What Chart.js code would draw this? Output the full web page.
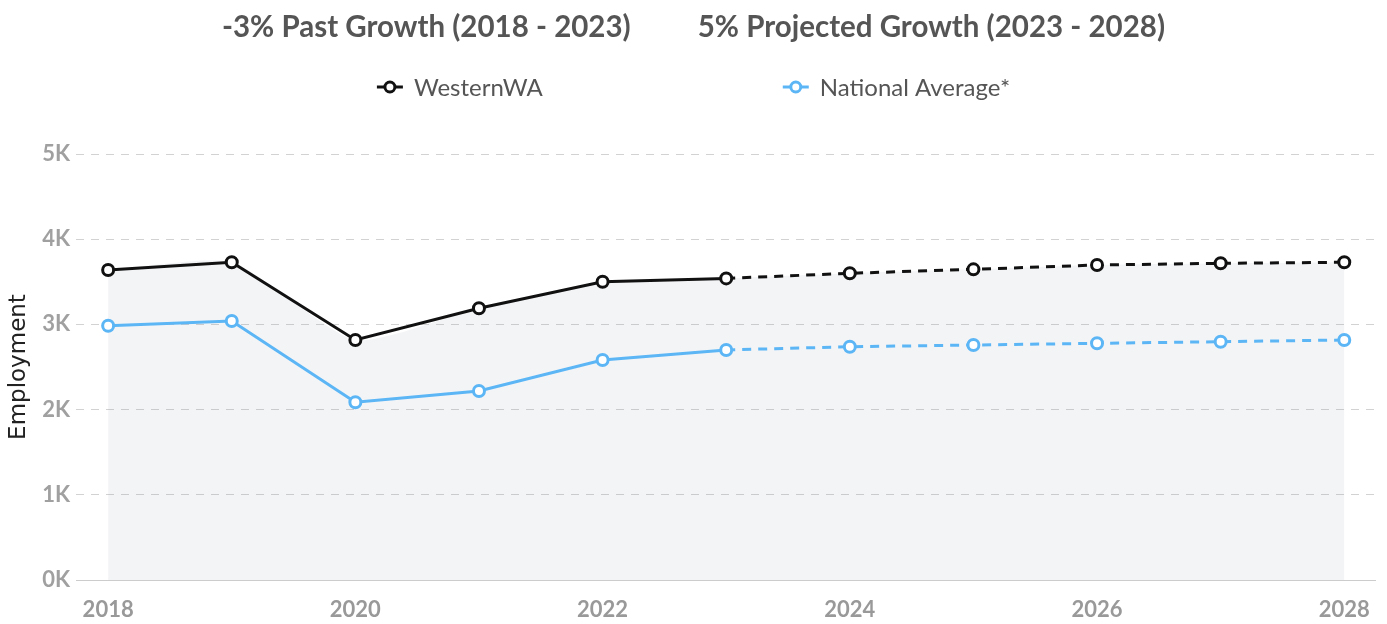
<!DOCTYPE html>
<html>
<head>
<meta charset="utf-8">
<title>Employment</title>
<script src="https://cdn.jsdelivr.net/npm/chart.js@4.4.1/dist/chart.umd.min.js"></script>
<style>
  html, body { margin: 0; padding: 0; background: #fff; }
  #wrap { width: 1387px; height: 624px; }
</style>
</head>
<body>
<div id="wrap"><canvas id="employment-chart" width="1387" height="624"></canvas></div>
<script>
(() => {
  'use strict';

  const years = [2018, 2019, 2020, 2021, 2022, 2023, 2024, 2025, 2026, 2027, 2028];
  const westernWA = [3638, 3729, 2817, 3189, 3500, 3540, 3600, 3646, 3697, 3717, 3729];
  const nationalAvg = [2985, 3040, 2086, 2218, 2582, 2700, 2738, 2758, 2778, 2797, 2817];
  const xTickYears = [2018, 2020, 2022, 2024, 2026, 2028];
  const titleParts = ['-3% Past Growth (2018 - 2023)', '5% Projected Growth (2023 - 2028)'];
  const LAST_ACTUAL = 5; // index of 2023, projections start after it

  const toPoints = vals => vals.map((v, i) => ({ x: years[i], y: v }));
  const projDash = ctx => ctx.p0DataIndex >= LAST_ACTUAL ? [9, 7] : undefined;

  // title row + legend row drawn above the plot
  const headerPlugin = {
    id: 'header',
    afterDraw(chart) {
      const { ctx, width } = chart;
      ctx.save();
      ctx.textBaseline = 'middle';
      ctx.textAlign = 'left';

      ctx.font = 'bold 29.5px Lato';
      ctx.fillStyle = '#555';
      const titleGap = 67;
      const tw = titleParts.map(t => ctx.measureText(t).width);
      let x = width / 2 - (tw[0] + titleGap + tw[1]) / 2;
      ctx.fillText(titleParts[0], x, 27);
      ctx.fillText(titleParts[1], x + tw[0] + titleGap, 27);

      ctx.font = '24px Lato';
      const items = chart.data.datasets.filter(ds => !ds.hideInLegend);
      const markW = 26, markGap = 11, itemGap = 240;
      const iw = items.map(ds => markW + markGap + ctx.measureText(ds.label).width);
      x = width / 2 - (iw.reduce((a, b) => a + b, 0) + itemGap * (items.length - 1)) / 2;
      const y = 87;
      items.forEach((ds, i) => {
        ctx.strokeStyle = ds.borderColor;
        ctx.lineWidth = 3;
        ctx.beginPath();
        ctx.moveTo(x, y);
        ctx.lineTo(x + markW, y);
        ctx.stroke();
        ctx.beginPath();
        ctx.arc(x + markW / 2, y, 5, 0, Math.PI * 2);
        ctx.fillStyle = '#fff';
        ctx.fill();
        ctx.stroke();
        ctx.fillStyle = '#555';
        ctx.fillText(ds.label, x + markW + markGap, y + 1);
        x += iw[i] + itemGap;
      });
      ctx.restore();
    }
  };

  const lineStyle = color => ({
    borderColor: color,
    borderWidth: 3,
    pointRadius: 5.5,
    pointHoverRadius: 5.5,
    pointBorderWidth: 3,
    pointBackgroundColor: '#fff',
    pointBorderColor: color,
    tension: 0,
    fill: false,
    segment: { borderDash: projDash }
  });

  const ctx = document.getElementById('employment-chart').getContext('2d');
  new Chart(ctx, {
    type: 'line',
    data: {
      datasets: [
        Object.assign({ label: 'WesternWA', data: toPoints(westernWA), order: 1 }, lineStyle('#111')),
        Object.assign({ label: 'National Average*', data: toPoints(nationalAvg), order: 2 }, lineStyle('#5cb6f6')),
        {
          label: 'area',
          hideInLegend: true,
          data: toPoints(westernWA),
          order: 3,
          borderWidth: 0,
          pointRadius: 0,
          tension: 0.2,
          fill: 'origin',
          backgroundColor: 'rgba(120, 135, 160, 0.09)'
        }
      ]
    },
    options: {
      responsive: false,
      animation: false,
      devicePixelRatio: 1,
      layout: { padding: { top: 154, right: 9, bottom: 2, left: 0 } },
      plugins: {
        legend: { display: false },
        title: { display: false },
        tooltip: { enabled: false }
      },
      scales: {
        x: {
          type: 'linear',
          min: 2017.74,
          max: 2028.25,
          grid: { display: false, drawTicks: false },
          border: { display: true, color: '#ccc', width: 1 },
          afterBuildTicks: axis => { axis.ticks = xTickYears.map(v => ({ value: v })); },
          afterFit: axis => { axis.height = 42; },
          ticks: {
            padding: 17,
            color: '#999',
            font: { family: 'Lato', size: 22, weight: 'bold' },
            maxRotation: 0,
            callback: v => String(v)
          }
        },
        y: {
          min: 0,
          max: 5000,
          afterFit: axis => { axis.width = 76; },
          grid: { color: '#d2d2d2', lineWidth: 1, drawTicks: false },
          border: { display: false, dash: [8, 7] },
          ticks: {
            stepSize: 1000,
            padding: 6,
            color: '#a0a0a0',
            font: { family: 'Lato', size: 22, weight: 'bold' },
            callback: v => (v / 1000) + 'K'
          },
          title: {
            display: true,
            text: 'Employment',
            color: '#222',
            font: { family: 'DejaVu Sans', size: 23 },
            padding: { top: 5, bottom: 8 }
          }
        }
      }
    },
    plugins: [headerPlugin]
  });
})();
</script>
</body>
</html>
